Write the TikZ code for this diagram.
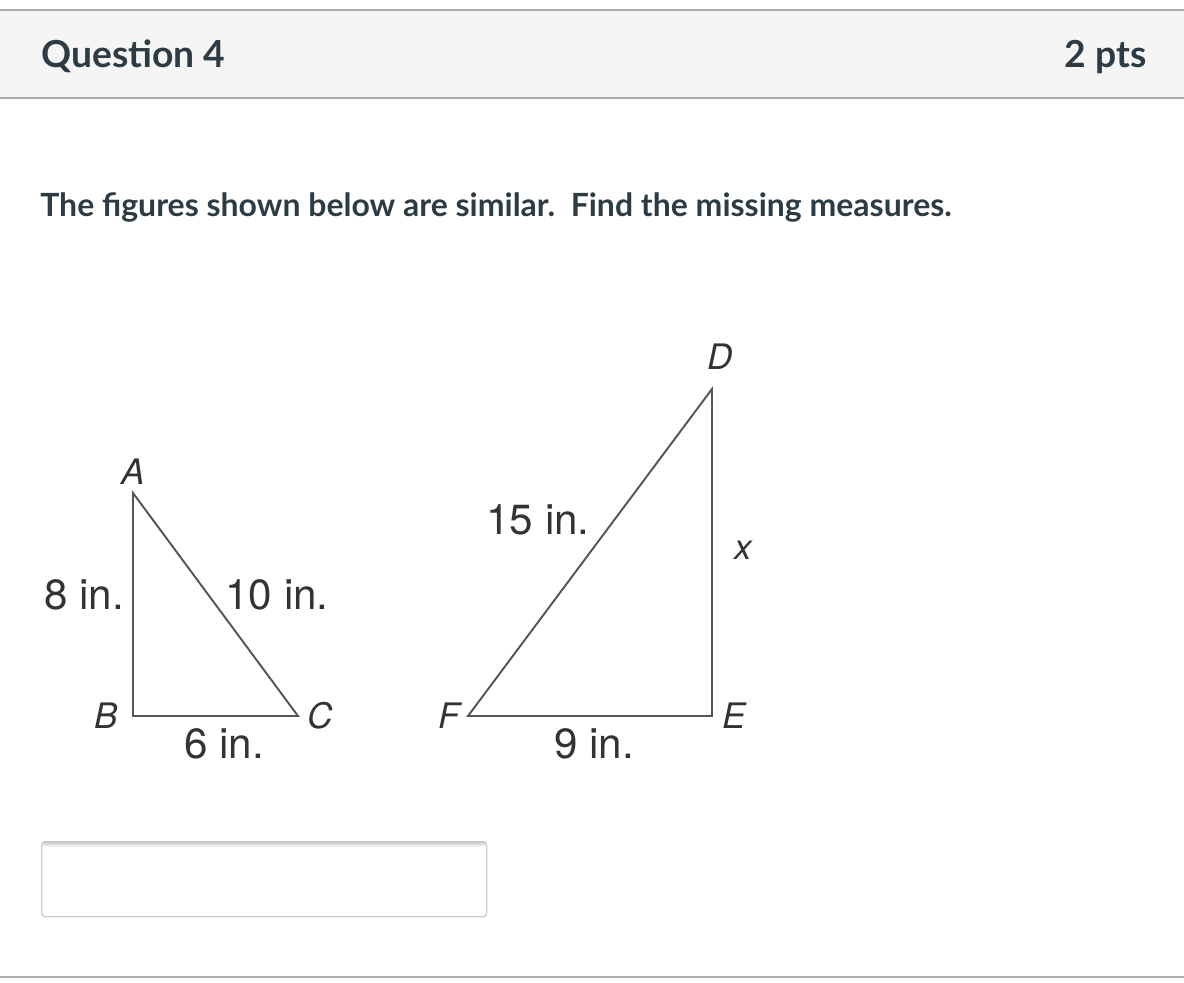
\documentclass[tikz,border=0pt]{standalone}
\usepackage{fontspec}
\setmainfont{Lato}
\newfontfamily\figfont{TeX Gyre Heros}
\usetikzlibrary{positioning}
\definecolor{hdrfill}{HTML}{F5F5F5}
\definecolor{rulegray}{HTML}{ABABAB}
\definecolor{inkgray}{HTML}{2D3B45}
\definecolor{figline}{HTML}{555555}
\definecolor{figtext}{HTML}{333333}
\definecolor{boxline}{HTML}{C7CDD1}
\tikzset{
  hd/.style={font=\bfseries\fontsize{21.2}{25}\selectfont, text=inkgray, inner sep=0pt},
  qt/.style={font=\bfseries\fontsize{18.2}{22}\selectfont, text=inkgray, inner sep=0pt},
  vx/.style={font=\figfont\itshape\fontsize{20}{24}\selectfont, text=figtext, inner sep=0pt},
  ms/.style={font=\figfont\fontsize{24}{28}\selectfont, text=figtext, inner sep=0pt},
  sd/.style={draw=figline, line width=1.1pt, line join=miter},
  rl/.style={draw=rulegray, line width=1.2pt},
  ab/.style={draw=boxline, line width=0.8pt, rounded corners=2pt, minimum width=445*0.02cm, minimum height=75*0.02cm, inner sep=0pt}
}
\begin{document}
\begin{tikzpicture}[x=0.02cm, y=-0.02cm]
	\useasboundingbox (0,0) rectangle (1184,983);

	% header
	\fill[hdrfill] (0,10) rectangle (1184,98);
	\draw[rl] (0,10) -- (1184,10);
	\draw[rl] (0,98) -- (1184,98);
	\node[hd, anchor=base west] (title) at (41,68) {Question 4};
	\node[hd, anchor=base east] (pts) at (1147,68) {2 pts};
	\node[qt, anchor=base west] (task) at (40,217) {The figures shown below are similar.\ \ Find the missing measures.};

	% small triangle
	\coordinate (A) at (133,493);
	\coordinate (B) at (133,716);
	\coordinate (C) at (298,716);
	\draw[sd] (A) -- (B) -- (C) -- cycle;
	\node[vx, above=1.7mm of A] (lA) {A};
	\node[vx, left=3mm of B] (lB) {B};
	\node[vx, right=1.8mm of C] (lC) {C};
	\node[ms] (ab) at (84,595) {8 in.};
	\node[ms] (ac) at (277,595) {10 in.};
	\node[ms] (bc) at (224,744) {6 in.};

	% large triangle
	\coordinate (D) at (712,389);
	\coordinate (E) at (712,716);
	\coordinate (F) at (468,716);
	\draw[sd] (D) -- (E) -- (F) -- cycle;
	\node[vx, above=3.8mm of D, xshift=1.6mm] (lD) {D};
	\node[vx, right=2mm of E] (lE) {E};
	\node[vx, left=1.6mm of F] (lF) {F};
	\node[ms] (df) at (538,520) {15 in.};
	\node[vx] (de) at (743,550) {x};
	\node[ms] (ef) at (594,744) {9 in.};

	% answer box
	\node[ab, anchor=north west] (ans) at (41,841) {};
	\shade[top color=black!22, bottom color=white, rounded corners=2pt] ([xshift=0.4pt,yshift=-0.4pt]ans.north west) rectangle ([xshift=-0.4pt,yshift=-6*0.02cm]ans.north east);
	\draw[rl] (0,977) -- (1184,977);
\end{tikzpicture}
\end{document}
